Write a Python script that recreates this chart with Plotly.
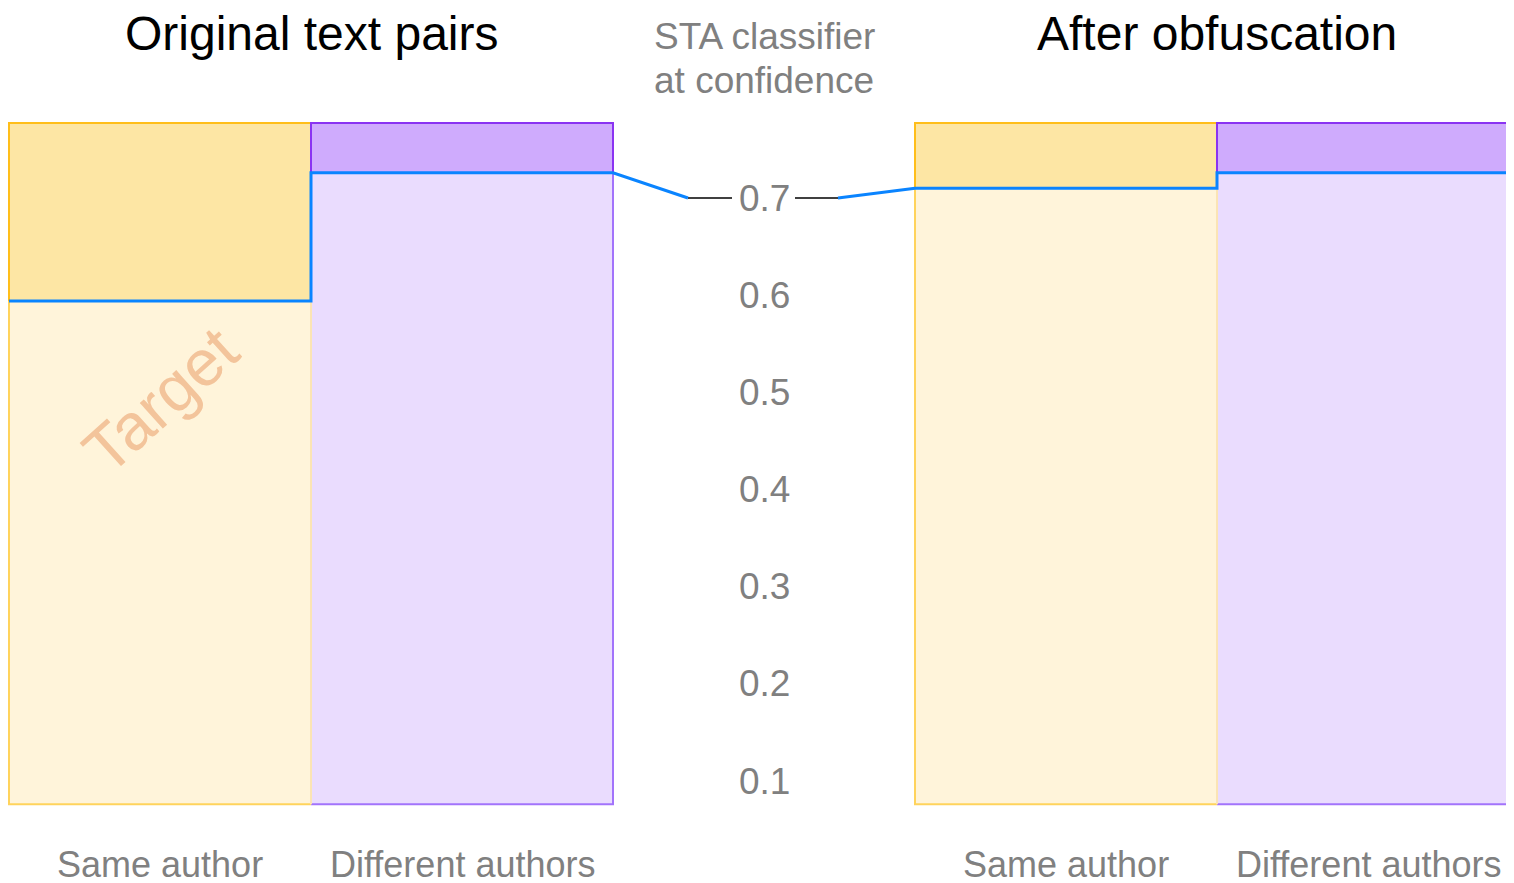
import plotly.graph_objects as go

# ---- data ----
panels = ["Original text pairs", "After obfuscation"]
categories = ["Same author", "Different authors"]
# classifier confidence per category (blue step line)
original_vals = [0.594, 0.726]
obfuscated_vals = [0.710, 0.726]
threshold = 0.7
y_bottom = 0.076
y_top = 0.777
tick_vals = [0.1, 0.2, 0.3, 0.4, 0.5, 0.6, 0.7]
axis_title_lines = ["STA classifier", "at confidence"]
watermark = "Target"

# ---- layout helpers (positions) ----
W, H = 1506, 875            # page body has an 8px margin
X_SCALE = 302.0             # px per bar unit
X_OFF = 1.0                 # px of x=0 inside plot
Y_SCALE = 971.67            # px per confidence unit
Y07_PX = 190.0              # px of 0.7 from top of figure
panel_starts = [0, 3]       # each panel = 2 unit-wide bars, gap of 1 unit
centre_x = 2.5
FONT = "Liberation Sans, Arial, Helvetica, sans-serif"
GRAY = "#808080"


def px_x(px):
    return (px - X_OFF) / X_SCALE


def paper_y(px):
    return 1 - px / H


fill_low = ["#FFF4DA", "#EADCFE"]
fill_up = ["#FDE6A4", "#CFABFD"]
edge_strong = ["#FFBE1A", "#8A33F2"]
edge_mid = ["#FFD35C", "#A273FB"]
edge_faint = "#FBE4B4"
BLUE = "#0A84FF"

fig = go.Figure()
all_vals = [original_vals, obfuscated_vals]

for p, vals in enumerate(all_vals):
    x0 = panel_starts[p]
    xs = [x0 + 0.5, x0 + 1.5]
    fig.add_trace(go.Bar(x=xs, y=[v - y_bottom for v in vals], base=[y_bottom] * 2,
                         width=1, marker=dict(color=fill_low, line=dict(width=0)),
                         hoverinfo="skip", showlegend=False))
    fig.add_trace(go.Bar(x=xs, y=[y_top - v for v in vals], base=vals,
                         width=1, marker=dict(color=fill_up, line=dict(width=2, color=edge_strong)),
                         hoverinfo="skip", showlegend=False))
    fig.add_trace(go.Scatter(x=[x0, x0, x0 + 1], y=[vals[0], y_bottom, y_bottom], mode="lines",
                             line=dict(color=edge_mid[0], width=2), hoverinfo="skip", showlegend=False))
    fig.add_trace(go.Scatter(x=[x0 + 1, x0 + 2, x0 + 2], y=[y_bottom, y_bottom, vals[1]], mode="lines",
                             line=dict(color=edge_mid[1], width=2), hoverinfo="skip", showlegend=False))
    fig.add_trace(go.Scatter(x=[x0 + 1, x0 + 1], y=[y_bottom, min(vals)], mode="lines",
                             line=dict(color=edge_faint, width=2), hoverinfo="skip", showlegend=False))

# black ticks beside threshold label
for seg in ([px_x(680), px_x(724)], [px_x(787), px_x(830)]):
    fig.add_trace(go.Scatter(x=seg, y=[threshold, threshold], mode="lines",
                             line=dict(color="black", width=1.3), hoverinfo="skip", showlegend=False))

# blue step line with connectors to the threshold
lx, rx = px_x(680), px_x(830)
bx = [0, 1, 1, 2, lx, None, rx, 3, 4, 4, 5]
by = [original_vals[0], original_vals[0], original_vals[1], original_vals[1], threshold, None,
      threshold, obfuscated_vals[0], obfuscated_vals[0], obfuscated_vals[1], obfuscated_vals[1]]
fig.add_trace(go.Scatter(x=bx, y=by, mode="lines", line=dict(color=BLUE, width=3),
                         hoverinfo="skip", showlegend=False))

annotations = []
for t in tick_vals:
    annotations.append(dict(x=centre_x, y=t, xref="x", yref="y", text=f"{t:.1f}", showarrow=False,
                            font=dict(family=FONT, size=37, color=GRAY), xanchor="center", yanchor="middle"))
for p, name in enumerate(panels):
    x0 = panel_starts[p]
    annotations.append(dict(x=x0 + 1, y=paper_y(25), xref="x", yref="paper", text=name, showarrow=False,
                            font=dict(family=FONT, size=48, color="black"), xanchor="center", yanchor="middle"))
    for i, c in enumerate(categories):
        annotations.append(dict(x=x0 + 0.5 + i, y=paper_y(856), xref="x", yref="paper", text=c,
                                showarrow=False, font=dict(family=FONT, size=36, color=GRAY),
                                xanchor="center", yanchor="middle"))
for k, line in enumerate(axis_title_lines):
    annotations.append(dict(x=px_x(644), y=paper_y(28 + 44 * k), xref="x", yref="paper", text=line,
                            showarrow=False, font=dict(family=FONT, size=37, color=GRAY),
                            xanchor="left", yanchor="middle"))
annotations.append(dict(x=0.5, y=0.492, xref="x", yref="y", text=watermark, showarrow=False, textangle=-42,
                        font=dict(family=FONT, size=65, color="#F3C49B"), xanchor="center", yanchor="middle"))

fig.update_layout(
    width=W, height=H,
    margin=dict(l=0, r=0, t=0, b=0),
    paper_bgcolor="white", plot_bgcolor="white",
    barmode="overlay", bargap=0,
    xaxis=dict(range=[px_x(0), px_x(W)], visible=False, fixedrange=True),
    yaxis=dict(range=[0.7 - (H - Y07_PX) / Y_SCALE, 0.7 + Y07_PX / Y_SCALE], visible=False, fixedrange=True),
    annotations=annotations,
)

fig.write_html("out.html")
